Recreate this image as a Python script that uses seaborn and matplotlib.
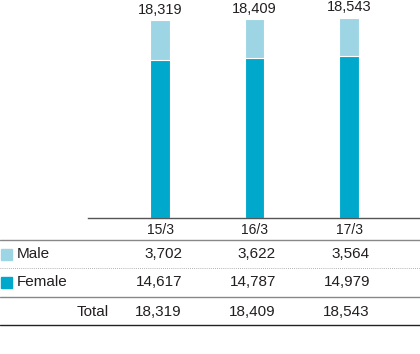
import matplotlib
matplotlib.use("Agg")
import matplotlib.pyplot as plt
import matplotlib.transforms as mtransforms
from matplotlib.lines import Line2D
from matplotlib.patches import Rectangle
import seaborn as sns
import pandas as pd

periods = ["15/3", "16/3", "17/3"]
male = [3702, 3622, 3564]
female = [14617, 14787, 14979]
total = [18319, 18409, 18543]

MALE_C = "#9dd5e5"
FEMALE_C = "#00a9cb"
TXT = "#231f20"

sns.set_theme(style="white")
plt.rcParams["font.family"] = ["Liberation Sans", "DejaVu Sans"]

W, H = 420, 354
fig = plt.figure(figsize=(W / 100, H / 100), dpi=100)

def fy(px):
    return 1 - px / H

def fx(px):
    return px / W

ax = fig.add_axes([fx(88), fy(218), fx(420) - fx(88), fy(0) - fy(218)])

df = pd.DataFrame({"period": periods, "male": male, "female": female, "total": total})
sns.barplot(data=df, x="period", y="total", color=MALE_C, width=0.21, ax=ax,
            edgecolor="white", linewidth=0.8, saturation=1)
sns.barplot(data=df, x="period", y="female", color=FEMALE_C, width=0.21, ax=ax,
            edgecolor="white", linewidth=0.8, saturation=1)

ax.set_xlim(-0.762, 2.751)
ax.set_ylim(0, 20170)
ax.set_xlabel("")
ax.set_ylabel("")
ax.set_xticks([])
ax.set_yticks([])
for s in ["top", "right", "left"]:
    ax.spines[s].set_visible(False)
ax.spines["bottom"].set_color("#555555")
ax.spines["bottom"].set_linewidth(1.0)

for i, t in enumerate(total):
    ax.annotate(f"{t:,}", (i, t), xytext=(0, 2.5), textcoords="offset points",
                ha="center", va="bottom", fontsize=10.5, color=TXT)

# Table
blend = mtransforms.blended_transform_factory(ax.transData, fig.transFigure)
fs = 11
for i, p in enumerate(periods):
    fig.text(i, fy(230), p, transform=blend, ha="center", va="center", fontsize=10, color=TXT)

num_x_px = [182, 276, 370]
for row_y, vals in [(254, male), (282, female), (312, total)]:
    for xp, v in zip(num_x_px, vals):
        fig.text(fx(xp), fy(row_y), f"{v:,}", ha="right", va="center", fontsize=fs, color=TXT)

fig.text(fx(17), fy(254), "Male", ha="left", va="center", fontsize=fs, color=TXT)
fig.text(fx(17), fy(282), "Female", ha="left", va="center", fontsize=fs, color=TXT)
fig.text(fx(109), fy(312), "Total", ha="right", va="center", fontsize=fs, color=TXT)

fig.patches.append(Rectangle((fx(1), fy(260)), fx(11), fy(249) - fy(260),
                             transform=fig.transFigure, color=MALE_C, figure=fig))
fig.patches.append(Rectangle((fx(1), fy(288)), fx(11), fy(277) - fy(288),
                             transform=fig.transFigure, color=FEMALE_C, figure=fig))

fig.lines.append(Line2D([0, 1], [fy(240), fy(240)], transform=fig.transFigure,
                        color="#888888", linewidth=1.0, figure=fig))
fig.lines.append(Line2D([0, 1], [fy(268), fy(268)], transform=fig.transFigure,
                        color="#999999", linewidth=0.6, linestyle=(0, (1, 1.5)), figure=fig))
fig.lines.append(Line2D([0, 1], [fy(297), fy(297)], transform=fig.transFigure,
                        color="#888888", linewidth=1.0, figure=fig))
fig.lines.append(Line2D([0, 1], [fy(325), fy(325)], transform=fig.transFigure,
                        color="#222222", linewidth=1.0, figure=fig))

fig.savefig("out.png", dpi=100)
